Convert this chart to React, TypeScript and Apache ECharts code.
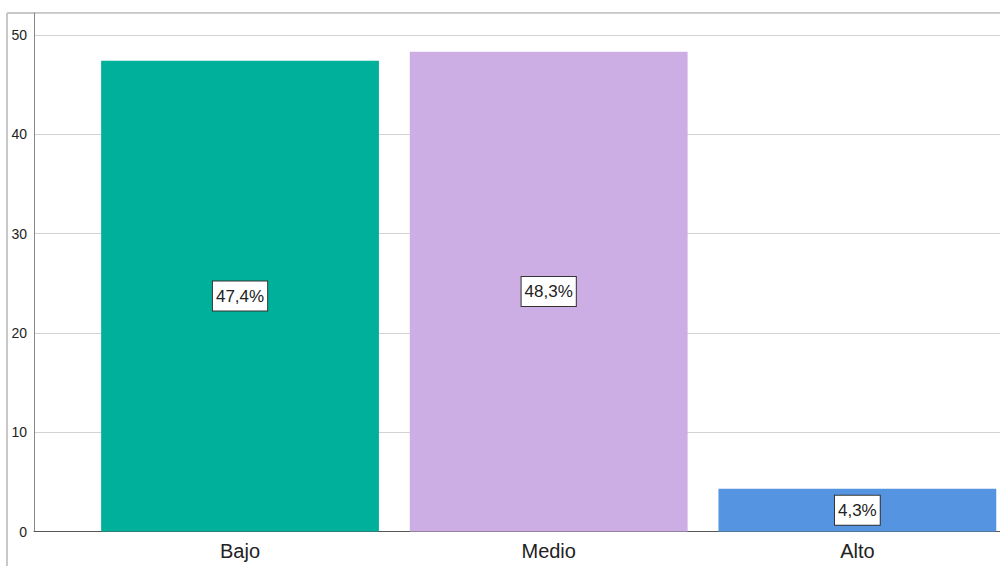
import React, { useEffect, useRef } from "react";
import * as echarts from "echarts";

const categories = ["Bajo", "Medio", "Alto"];
const percentages = [47.4, 48.3, 4.3];
const barColors = ["#00b09b", "#cdaee4", "#5594e0"];
const yTicks = [0, 10, 20, 30, 40, 50];

export default function App() {
  const ref = useRef<HTMLDivElement>(null);

  useEffect(() => {
    if (!ref.current) return;
    const chart = echarts.init(ref.current, null, { renderer: "svg" });
    const yMax = 52.2;
    chart.setOption({
      animation: false,
      backgroundColor: "#ffffff",
      grid: [
        { left: 85.7, top: 13, width: 926, bottom: 34.5 },
        { left: 34, top: 13, right: 40, bottom: 34.5 },
      ],
      xAxis: [
        {
          type: "category",
          gridIndex: 0,
          data: categories,
          axisLine: { show: false },
          axisTick: { show: false },
          axisLabel: {
            fontFamily: "Liberation Sans, Arial, sans-serif",
            fontSize: 20,
            color: "#222",
            margin: 9,
          },
        },
        {
          type: "value",
          gridIndex: 1,
          min: 0,
          max: 1,
          axisLine: { show: true, lineStyle: { color: "#555", width: 1 } },
          axisTick: { show: false },
          axisLabel: { show: false },
          splitLine: { show: false },
        },
      ],
      yAxis: [
        {
          type: "value",
          gridIndex: 0,
          min: 0,
          max: yMax,
          show: false,
          splitLine: { show: false },
        },
        {
          type: "value",
          gridIndex: 1,
          min: yTicks[0],
          max: yMax,
          interval: 10,
          axisLine: { show: true, lineStyle: { color: "#888", width: 1 } },
          axisTick: { show: false },
          axisLabel: {
            fontFamily: "Liberation Sans, Arial, sans-serif",
            fontSize: 14,
            color: "#222",
            margin: 7,
            padding: [4, 0, 0, 0],
            formatter: (v: number) => (yTicks.includes(v) ? String(v) : ""),
          },
          splitLine: { show: true, lineStyle: { color: "#d2d2d2", width: 1 } },
        },
      ],
      series: [
        {
          type: "bar",
          xAxisIndex: 0,
          yAxisIndex: 0,
          barCategoryGap: "10%",
          data: percentages.map((v, i) => ({
            value: v,
            itemStyle: { color: barColors[i] },
          })),
          label: {
            show: true,
            position: "inside",
            formatter: (p: any) => String(p.value).replace(".", ",") + "%",
            fontFamily: "Liberation Sans, Arial, sans-serif",
            fontSize: 17,
            color: "#222",
            backgroundColor: "#ffffff",
            borderColor: "#333",
            borderWidth: 1,
            lineHeight: 18,
            padding: [6, 3, 5, 3],
          },
        },
      ],
      graphic: [
        {
          type: "line",
          shape: { x1: 7, y1: 13, x2: 7, y2: 566 },
          style: { stroke: "#c8c8c8", lineWidth: 2 },
          silent: true,
        },
        {
          type: "line",
          shape: { x1: 7, y1: 13, x2: 1040, y2: 13 },
          style: { stroke: "#c8c8c8", lineWidth: 2 },
          silent: true,
        },
      ],
    });
    return () => chart.dispose();
  }, []);

  return (
    <div
      style={{
        position: "absolute",
        left: 0,
        top: 0,
        width: 1000,
        height: 566,
        overflow: "hidden",
      }}
    >
      <div ref={ref} style={{ width: 1040, height: 566 }} />
    </div>
  );
}
